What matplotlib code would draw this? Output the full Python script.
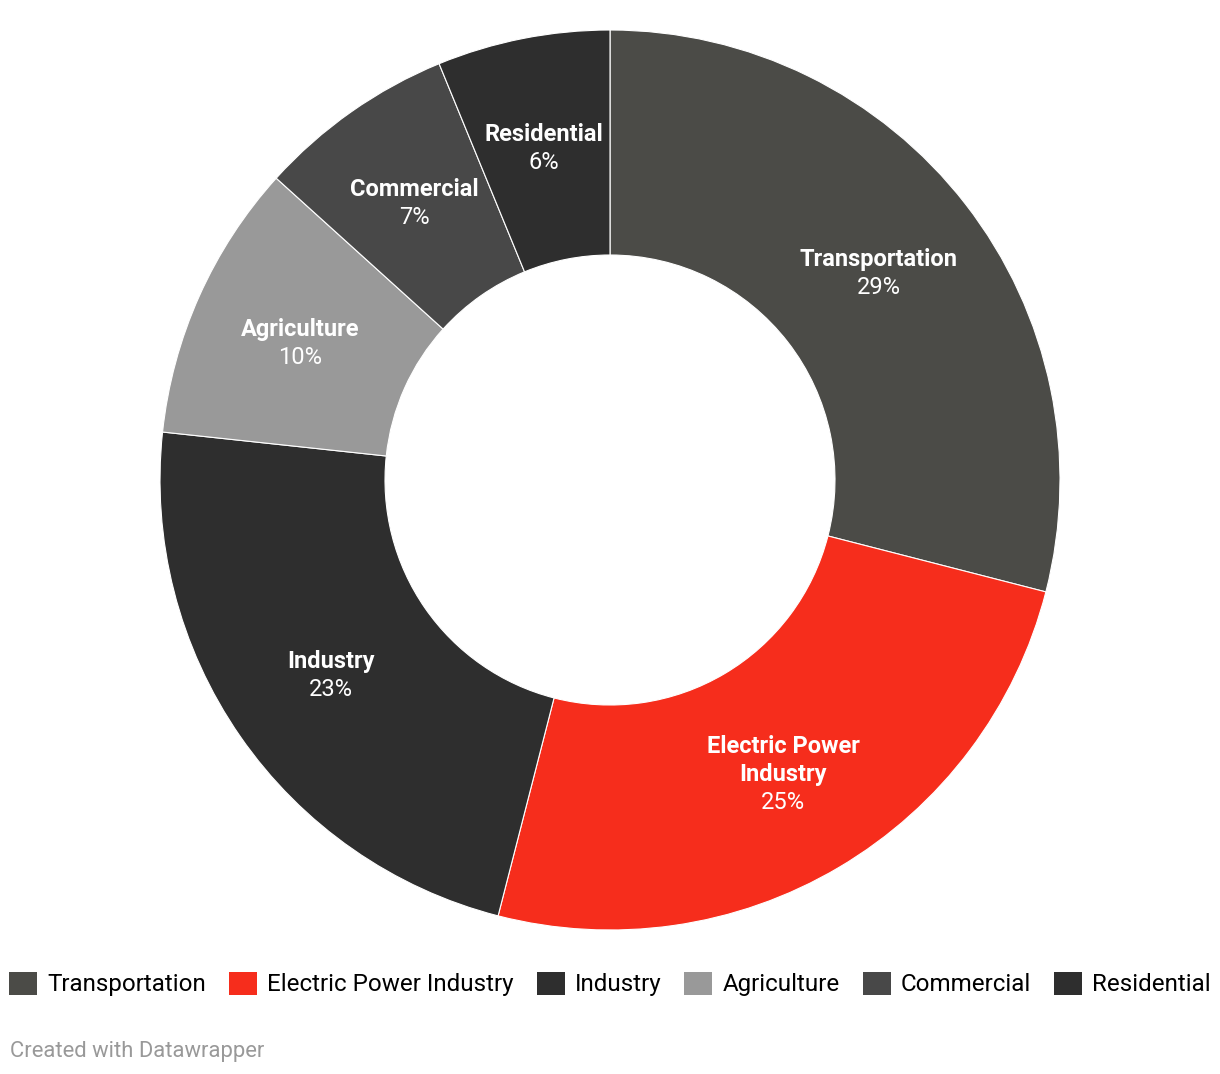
import matplotlib.pyplot as plt
import numpy as np
from matplotlib.patches import Patch

plt.rcParams['font.family'] = ['Roboto', 'DejaVu Sans']

sectors = ["Transportation", "Electric Power Industry", "Industry",
           "Agriculture", "Commercial", "Residential"]
labels = ["Transportation", "Electric Power\nIndustry", "Industry",
          "Agriculture", "Commercial", "Residential"]
shares = [29.0, 25.0, 22.7, 10.0, 7.1, 6.2]
colors = ["#4b4b47", "#f62d1c", "#2e2e2e", "#999999", "#484848", "#2e2e2e"]

fig = plt.figure(figsize=(12.2, 10.74), dpi=100)
ax = fig.add_axes([160 / 1220, 144 / 1074, 900 / 1220, 900 / 1074])

wedges, _ = ax.pie(shares, colors=colors, startangle=90, counterclock=False,
                   radius=1.0, wedgeprops=dict(width=0.5, edgecolor="white",
                                               linewidth=0.8))
ax.set_xlim(-1, 1)
ax.set_ylim(-1, 1)
ax.set_aspect("equal")
ax.axis("off")

step = 28 / 450      # line spacing in data units
cap = 8.4 / 450      # half cap height
for w, lab, s in zip(wedges, labels, shares):
    ang = np.deg2rad((w.theta1 + w.theta2) / 2)
    x, y = 0.755 * np.cos(ang), 0.755 * np.sin(ang)
    lines = lab.split("\n") + [f"{round(s)}%"]
    n = len(lines)
    for k, line in enumerate(lines):
        yy = y + ((n - 1) / 2 - k) * step - cap
        ax.text(x, yy, line, ha="center", va="baseline", color="white",
                fontsize=17, fontweight="bold" if k < n - 1 else "normal")

handles = [Patch(facecolor=c, edgecolor="none") for c in colors]
fig.legend(handles, sectors, loc="center", bbox_to_anchor=(0.5, 1 - 984 / 1074),
           ncol=6, frameon=False, fontsize=17.4, handlelength=1.16,
           handleheight=1.1, handletextpad=0.42, columnspacing=0.95,
           borderpad=0, borderaxespad=0)

fig.text(10 / 1220, 1 - 1052 / 1074, "Created with Datawrapper",
         ha="left", va="center", color="#999999", fontsize=15.8)

fig.savefig("out.png", dpi=100, facecolor="white")
